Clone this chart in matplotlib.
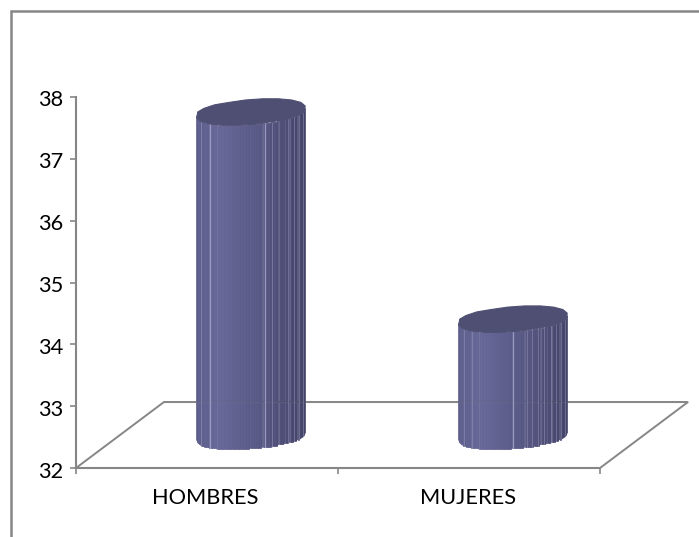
import numpy as np
import matplotlib
matplotlib.use("Agg")
import matplotlib.pyplot as plt
from matplotlib.colors import to_rgb
from matplotlib.transforms import ScaledTranslation

categories = ["HOMBRES", "MUJERES"]
values = [37.24, 33.89]
y_ticks = [32, 33, 34, 35, 36, 37, 38]
y_min, y_max = 32, 38

W, H = 699, 537
GREY = "#868686"
X0, X1, Y0, Y1 = 76, 600, 468, 97     # plot box in pixels
plt.rcParams["font.family"] = ["Lato", "DejaVu Sans"]

fig = plt.figure(figsize=(W / 100, H / 100), dpi=100, facecolor="white")
ax = fig.add_axes([X0 / W, 1 - Y0 / H, (X1 - X0) / W, (Y0 - Y1) / H])
ax.set_xlim(0, len(categories))
ax.set_ylim(y_min, y_max)
ax.patch.set_alpha(0)
for s in ("top", "right"):
    ax.spines[s].set_visible(False)
for s in ("left", "bottom"):
    ax.spines[s].set_color(GREY)
    ax.spines[s].set_linewidth(1.5)
ax.set_yticks(y_ticks)
ax.set_xticks(range(len(categories) + 1))
ax.set_xticklabels([])
ax.tick_params(axis="both", color=GREY, width=1.2, length=4, labelsize=15.7, pad=5)
ax.tick_params(axis="y", labelcolor="black")
for lab in ax.get_yticklabels():
    lab.set_transform(lab.get_transform() + ScaledTranslation(0, -1.5 / 100, fig.dpi_scale_trans))

upx = len(categories) / (X1 - X0)     # data units per pixel, x
vpx = (y_max - y_min) / (Y0 - Y1)     # data units per pixel, y

# floor of the 3-D box
dep_x, dep_y = 88 * upx, 66 * vpx
ax.plot([0, dep_x, 2 + dep_x, 2], [y_min, y_min + dep_y, y_min + dep_y, y_min],
        color=GREY, lw=1.4, clip_on=False, zorder=1, solid_joinstyle="miter")

for i, c in enumerate(categories):
    ax.text(i + 0.5 - 0.005, y_min - 30 * vpx, c, ha="center", va="center", fontsize=15.7)

# cylinder geometry (in pixels)
RX, RY, SHEAR = 54.5, 12.5, 4.0
N = 20
STEP = 1.2
base_lift = 32 * vpx
facets = [
    [-50.5, -41.5, 13.5, 20.5, 36.5, 42.5, 47.5, 51.5],
    [-49.5, -41.5, 0, 13.5, 19, 24.5, 30.5, 37.5, 42.5, 47.5, 51.5],
]
strong = [[-41.5, 13.5], [0]]
LEFT, MID, RIGHT = to_rgb("#666698"), to_rgb("#585886"), to_rgb("#434368")
TOP = "#4f4f73"


def shade(t):
    # t from 0 (left) to 1 (right)
    left, mid, right = map(np.array, (LEFT, MID, RIGHT))
    if t < 0.2:
        return tuple(left * (0.92 + 0.08 * t / 0.2))
    if t < 0.55:
        return tuple(left + (mid - left) * (t - 0.2) / 0.35)
    return tuple(mid + (right - mid) * (t - 0.55) / 0.45)


def rim(cx, cy, angle):
    s, c = np.sin(angle), np.cos(angle)
    off = RY * np.sign(s) * np.abs(s) ** 0.85 + SHEAR * c
    off = np.round(off / STEP) * STEP     # faceted outline
    return cx + RX * c * upx, cy + off * vpx


for i, v in enumerate(values):
    cx = i + 0.5 + dep_x / 2
    cy0 = y_min + base_lift
    cy1 = v + base_lift
    edges = np.linspace(-RX, RX, 70)
    for a, b in zip(edges[:-1], edges[1:]):
        ta, tb = np.arccos(np.clip(a / RX, -1, 1)), np.arccos(np.clip(b / RX, -1, 1))
        xa0, ya0 = rim(cx, cy0, -ta)
        xb0, yb0 = rim(cx, cy0, -tb)
        xa1, ya1 = rim(cx, cy1, -ta)
        xb1, yb1 = rim(cx, cy1, -tb)
        ax.fill([xa0, xb0, xb1, xa1], [ya0, yb0, yb1, ya1],
                color=shade((a + RX) / (2 * RX)), lw=0.5, zorder=3, clip_on=False)
    for f in facets[i]:
        t = np.arccos(f / RX)
        x0, y0 = rim(cx, cy0, -t)
        x1, y1 = rim(cx, cy1, -t)
        is_strong = f in strong[i]
        ax.plot([x0, x1], [y0, y1], color="#a9a9cf", lw=0.9 if is_strong else 0.7,
                alpha=0.8 if is_strong else 0.4, zorder=4, clip_on=False)
    ang = np.linspace(0, 2 * np.pi, N, endpoint=False) + 0.1
    tx, ty = rim(cx, cy1, ang)
    ax.fill(tx, ty, color=TOP, lw=0.8, zorder=5, clip_on=False)

# floor back line seen faintly through the cylinders
ax.plot([dep_x, 2 + dep_x], [y_min + dep_y] * 2, color=GREY, lw=1.0, alpha=0.18,
        zorder=3.5, clip_on=False)

# chart frame: only top and left edges are visible
frame = fig.add_axes([0, 0, 1, 1], zorder=-1)
frame.set_xlim(0, W)
frame.set_ylim(H, 0)
frame.axis("off")
frame.plot([11, 11, W], [H, 11, 11], color=GREY, lw=1.8, solid_joinstyle="miter")

fig.savefig("out.png", dpi=100)
